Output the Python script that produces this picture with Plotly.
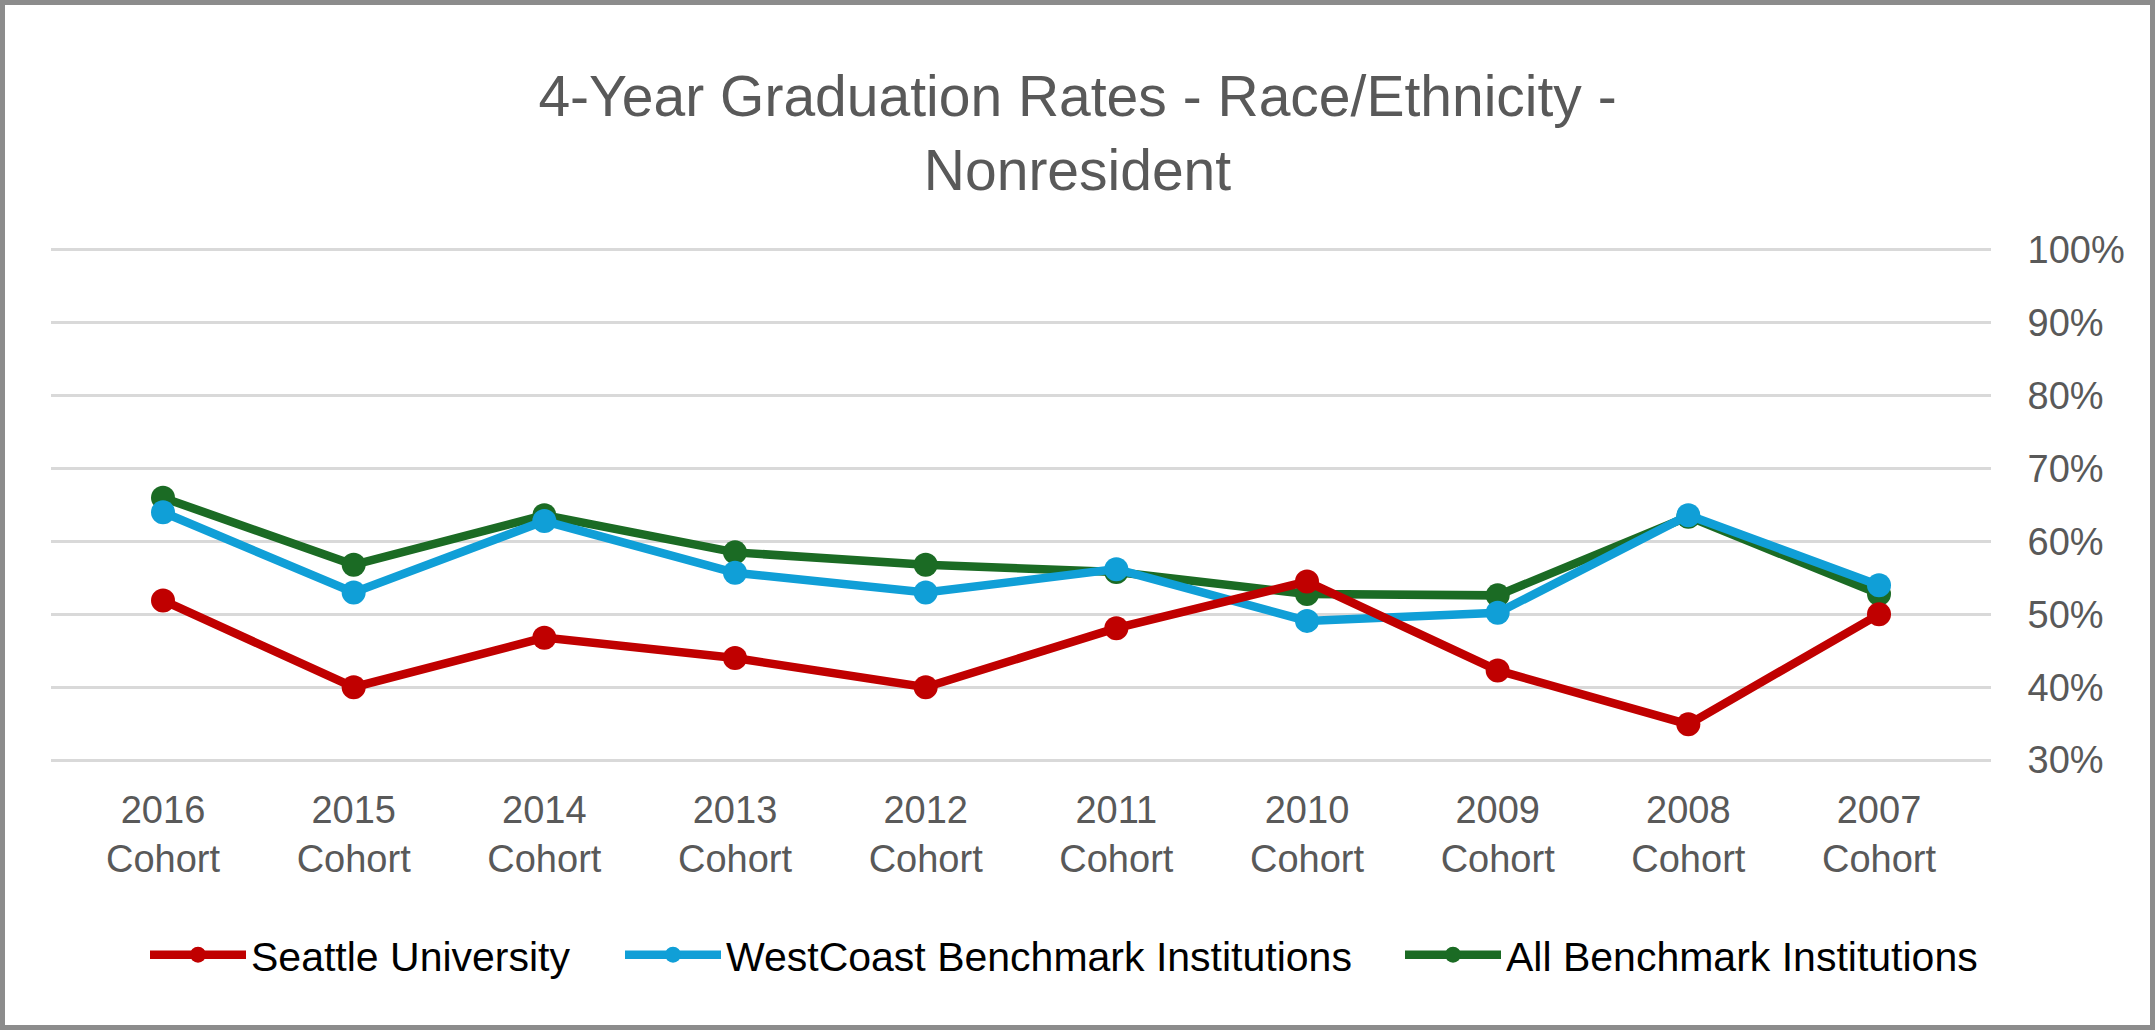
import plotly.graph_objects as go

# ---- data ----
cohorts = ["2007", "2008", "2009", "2010", "2011", "2012", "2013", "2014", "2015", "2016"]
cohort_labels = [c + "<br>Cohort" for c in cohorts]

all_benchmark = [52.8, 63.4, 52.6, 52.8, 55.8, 56.8, 58.5, 63.6, 56.8, 66.0]
westcoast_benchmark = [54.0, 63.6, 50.2, 49.1, 56.2, 53.0, 55.7, 62.8, 53.0, 64.0]
seattle_u = [50.0, 34.9, 42.3, 54.5, 48.1, 40.0, 44.0, 46.8, 40.0, 51.9]

y_ticks = [30, 40, 50, 60, 70, 80, 90, 100]
y_tick_text = [f"{v}%" for v in y_ticks]

# ---- layout constants ----
W, H = 2155, 1030
ML, MR, MT, MB = 51, 164, 247, 267
PW, PH = W - ML - MR, H - MT - MB

GREEN = "#1b6b24"
BLUE = "#109fd7"
RED = "#c00000"
GREY_TXT = "#595959"
FONT = "Liberation Sans, Arial, sans-serif"


def px_x(p):
    return (p - ML) / PW


def px_y(p):
    return (H - MB - p) / PH


fig = go.Figure()

# (name, values, colour, legend id, legend left edge in px)
series = [
    ("All Benchmark Institutions", all_benchmark, GREEN, "legend3", 1400),
    ("WestCoast Benchmark Institutions", westcoast_benchmark, BLUE, "legend2", 620),
    ("Seattle University", seattle_u, RED, "legend", 145),
]
for name, vals, col, leg, _ in series:
    fig.add_trace(go.Scatter(
        x=cohort_labels, y=vals, name=name, mode="lines+markers",
        line=dict(color=col, width=8.5),
        marker=dict(color=col, size=24),
        legend=leg,
    ))

legend_common = dict(
    orientation="h", yanchor="middle", y=px_y(955), xanchor="left",
    font=dict(size=41, color="black", family=FONT),
    itemwidth=96, bgcolor="rgba(0,0,0,0)",
)
legends = {}
for name, vals, col, leg, left in series:
    legends[leg] = dict(legend_common, x=px_x(left))

fig.update_layout(
    width=W, height=H,
    margin=dict(l=ML, r=MR, t=MT, b=MB, pad=0),
    paper_bgcolor="white", plot_bgcolor="white",
    font=dict(family=FONT, color=GREY_TXT),
    title=dict(
        text="4-Year Graduation Rates - Race/Ethnicity -<br>Nonresident",
        font=dict(size=57, color=GREY_TXT, family=FONT),
        x=0.5, xanchor="center", xref="container",
        y=1 - 116 / H, yanchor="middle", yref="container",
    ),
    xaxis=dict(
        type="category", autorange="reversed",
        showgrid=False, zeroline=False, showline=False,
        ticks="outside", ticklen=13, tickcolor="rgba(0,0,0,0)",
        tickfont=dict(size=38, color=GREY_TXT, family=FONT),
        tickangle=0,
    ),
    yaxis=dict(
        side="right", range=[29.6, 100.4],
        tickvals=y_ticks, ticktext=y_tick_text,
        showgrid=True, gridcolor="#d9d9d9", gridwidth=2.5,
        zeroline=False, showline=False,
        ticks="outside", ticklen=28, tickcolor="rgba(0,0,0,0)",
        tickfont=dict(size=38, color=GREY_TXT, family=FONT),
    ),
    showlegend=True,
    **legends,
)

# outer frame
fig.add_shape(
    type="rect", xref="paper", yref="paper",
    x0=px_x(2.5), x1=px_x(W - 2.5), y0=px_y(H - 2.5), y1=px_y(2.5),
    line=dict(color="#8c8c8c", width=5), fillcolor="rgba(0,0,0,0)",
    layer="below",
)

fig.write_html("out.html")
